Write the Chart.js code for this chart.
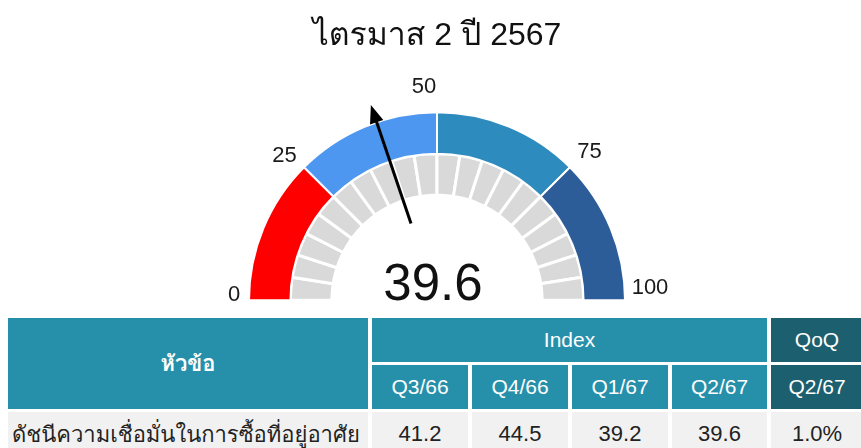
<!DOCTYPE html>
<html>
<head>
<meta charset="utf-8">
<script src="https://cdn.jsdelivr.net/npm/chart.js@4"></script>
<style>
  body { margin: 0; background: #fff; font-family: "Liberation Sans", Arial, Tahoma, Loma, sans-serif; }
  #wrap { position: relative; width: 861px; height: 448px; overflow: hidden; }
  #gauge { position: absolute; left: 0; top: 0; width: 861px; height: 318px; }
  #tbl {
    position: absolute; left: 8px; top: 318px;
    display: grid;
    grid-template-columns: 360px 96px 96px 96px 95px 92px;
    grid-template-rows: 44px 44px 44px;
    column-gap: 4px; row-gap: 3px;
  }
  #tbl div { display: flex; align-items: center; justify-content: center; color: #fff; font-size: 21px; white-space: nowrap; }
  .hd { background: #2690ab; }
  .qq { background: #1c5f6e; }
  .rw { background: #f1f1f1; color: #222 !important; font-size: 22px !important; }
  .lbl { justify-content: flex-start !important; padding-left: 4px; font-size: 22px !important; }
</style>
</head>
<body>
<div id="wrap">
  <div id="gauge"><canvas id="myChart"></canvas></div>
  <div id="tbl"></div>
</div>
<script>
// ข้อมูล
const titleText = 'ไตรมาส 2 ปี 2567';
const rowLabel = 'ดัชนีความเชื่อมั่นในการซื้อที่อยู่อาศัย';
const periods = ['Q3/66', 'Q4/66', 'Q1/67', 'Q2/67'];
const indexValues = [41.2, 44.5, 39.2, 39.6];
const qoqPeriod = 'Q2/67';
const qoqValue = 1.0;
const gaugeTicks = [0, 25, 50, 75, 100];
const zoneSizes = [25, 25, 25, 25];
const zoneColors = ['#ff0000', '#4d97f0', '#2d8bbd', '#2d5d99'];
const graySegments = [5, 5, 5, 5, 5, 5, 5, 5, 5, 5, 5, 5, 5, 5, 5, 5, 5, 5, 5, 5];

const current = indexValues[indexValues.length - 1];
const FONT = '"Liberation Sans", Arial, Tahoma, Loma, sans-serif';
// dịch nhãn một chút cho giống ảnh gốc
const tickNudge = [[7, -5], [-4, 4], [-13, -3], [4, 0], [3, -12]];

// kim + nhãn + số ở giữa
const gaugeExtras = {
  id: 'gaugeExtras',
  afterDatasetsDraw(chart) {
    const arcs = chart.getDatasetMeta(0).data;
    const cx = arcs[0].x, cy = arcs[0].y;
    const a0 = arcs[0].startAngle, a1 = arcs[arcs.length - 1].endAngle;
    const total = zoneSizes.reduce((s, v) => s + v, 0);
    const angleOf = v => a0 + (a1 - a0) * v / total;
    const ctx = chart.ctx;
    ctx.save();

    // nhãn 0..100
    ctx.fillStyle = '#1a1a1a';
    ctx.font = '22px ' + FONT;
    ctx.textAlign = 'center';
    ctx.textBaseline = 'middle';
    gaugeTicks.forEach((t, i) => {
      const a = angleOf(t);
      const r = 210;
      const x = cx + r * Math.cos(a) + tickNudge[i][0];
      const y = cy + r * Math.sin(a) + tickNudge[i][1];
      ctx.fillText(String(t), x, y);
    });

    // kim
    const a = angleOf(current);
    const r1 = 81, r2 = 206, head = 18;
    const ux = Math.cos(a), uy = Math.sin(a);
    ctx.strokeStyle = '#000';
    ctx.lineWidth = 3;
    ctx.beginPath();
    ctx.moveTo(cx + r1 * ux, cy + r1 * uy);
    ctx.lineTo(cx + (r2 - head + 2) * ux, cy + (r2 - head + 2) * uy);
    ctx.stroke();
    const bx = cx + (r2 - head) * ux, by = cy + (r2 - head) * uy;
    ctx.fillStyle = '#000';
    ctx.beginPath();
    ctx.moveTo(cx + r2 * ux, cy + r2 * uy);
    ctx.lineTo(bx - 7 * uy, by + 7 * ux);
    ctx.lineTo(bx + 7 * uy, by - 7 * ux);
    ctx.closePath();
    ctx.fill();

    // số ở giữa
    ctx.fillStyle = '#111';
    ctx.font = '51px ' + FONT;
    ctx.textBaseline = 'alphabetic';
    ctx.fillText(current.toFixed(1), cx - 4, cy);
    ctx.restore();
  }
};

const ctx = document.getElementById('myChart').getContext('2d');
const myChart = new Chart(ctx, {
  type: 'doughnut',
  data: {
    datasets: [{
      data: zoneSizes,
      backgroundColor: zoneColors,
      borderColor: '#fff',
      borderWidth: 2
    }, {
      data: graySegments,
      backgroundColor: '#d9d9d9',
      borderColor: '#fff',
      borderWidth: 3
    }]
  },
  options: {
    responsive: true,
    maintainAspectRatio: false,
    animation: false,
    rotation: -90,
    circumference: 180,
    radius: 188,
    cutout: '55.9%',
    layout: { padding: { left: 13, right: 0, top: 0, bottom: 0 } },
    events: [],
    plugins: {
      legend: { display: false },
      tooltip: { enabled: false },
      title: {
        display: true,
        text: titleText,
        color: '#111',
        font: { size: 32, family: FONT, weight: 'normal', lineHeight: 1.2 },
        padding: { top: 17, bottom: 39 }
      }
    }
  },
  plugins: [gaugeExtras]
});

// bảng
const tbl = document.getElementById('tbl');
function cell(text, cls, style) {
  const d = document.createElement('div');
  d.className = cls;
  d.textContent = text;
  if (style) d.style.cssText = style;
  tbl.appendChild(d);
}
cell('หัวข้อ', 'hd', 'grid-row: 1 / 3; grid-column: 1; font-weight: bold; font-size: 22px;');
cell('Index', 'hd', 'grid-row: 1; grid-column: 2 / 6;');
cell('QoQ', 'qq', 'grid-row: 1; grid-column: 6;');
periods.forEach((p, i) => cell(p, 'hd', 'grid-row: 2; grid-column: ' + (i + 2) + ';'));
cell(qoqPeriod, 'qq', 'grid-row: 2; grid-column: 6;');
cell(rowLabel, 'rw lbl', 'grid-row: 3; grid-column: 1;');
indexValues.forEach((v, i) => cell(v.toFixed(1), 'rw', 'grid-row: 3; grid-column: ' + (i + 2) + ';'));
cell(qoqValue.toFixed(1) + '%', 'rw', 'grid-row: 3; grid-column: 6;');
</script>
</body>
</html>
